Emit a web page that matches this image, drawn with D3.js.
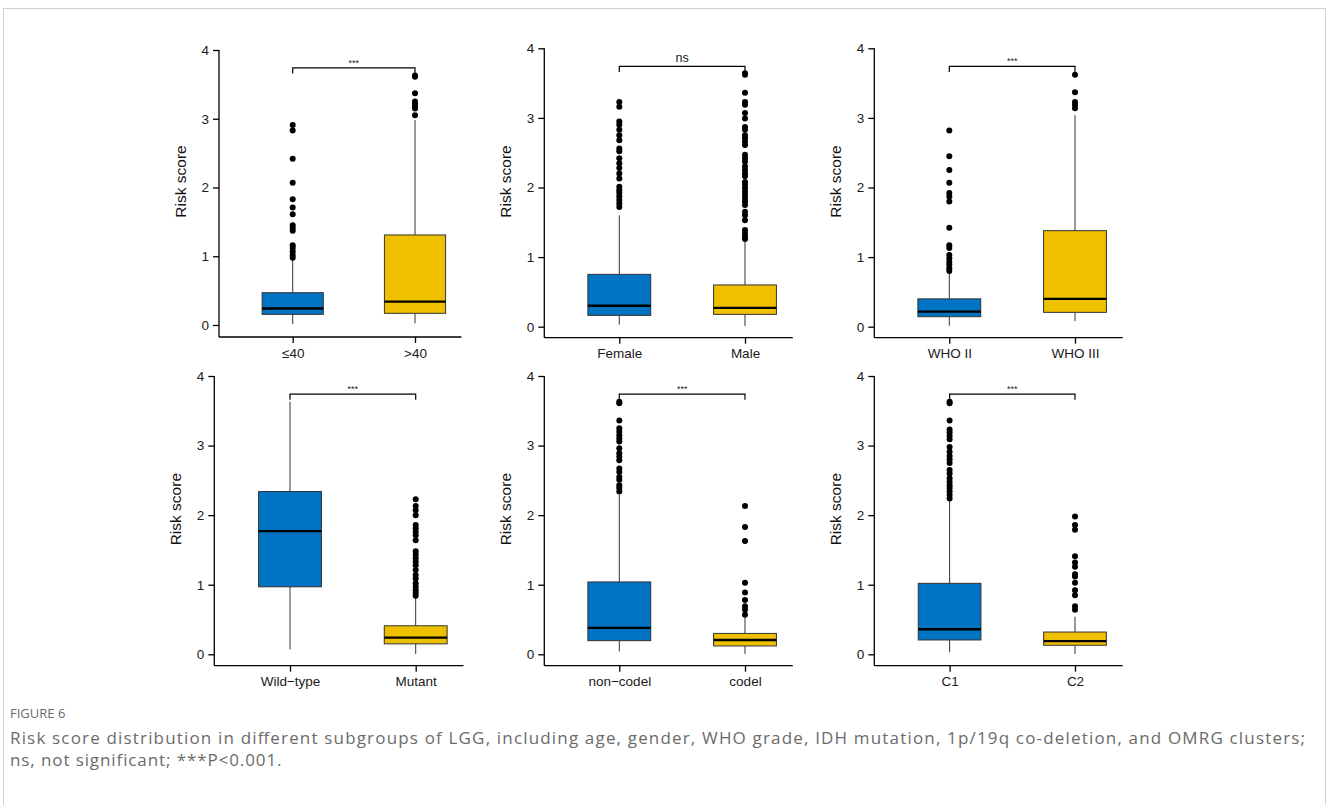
<!DOCTYPE html>
<html>
<head>
<meta charset="utf-8">
<script src="https://d3js.org/d3.v7.min.js"></script>
<style>
  body { margin: 0; background: #fff; }
  svg { display: block; }
</style>
</head>
<body>
<script>
// ---- data ----
const categories = [
  ["≤40", ">40"],
  ["Female", "Male"],
  ["WHO II", "WHO III"],
  ["Wild\u2212type", "Mutant"],
  ["non\u2212codel", "codel"],
  ["C1", "C2"]
];
const sigLabels = ["***", "ns", "***", "***", "***", "***"];

// box stats per panel: [group1, group2]
const whiskerLow  = [[0.015, 0.024], [0.03, 0.01], [0.014, 0.08], [0.07, 0.005], [0.04, 0.005], [0.03, 0.005]];
const q1          = [[0.155, 0.17], [0.163, 0.177], [0.144, 0.206], [0.97, 0.15], [0.196, 0.12], [0.206, 0.13]];
const medians     = [[0.24, 0.34], [0.30, 0.27], [0.216, 0.40], [1.77, 0.24], [0.38, 0.206], [0.36, 0.19]];
const q3          = [[0.47, 1.31], [0.752, 0.60], [0.40, 1.38], [2.34, 0.41], [1.04, 0.30], [1.02, 0.32]];
const whiskerHigh = [[0.95, 2.98], [1.60, 1.25], [0.78, 3.04], [3.63, 0.82], [2.29, 0.56], [2.23, 0.54]];

const outliers = [
  [[2.91, 2.83, 2.42, 2.07, 1.83, 1.71, 1.61, 1.45, 1.41, 1.37, 1.16, 1.12, 1.07, 1.02, 0.98],
   [3.63, 3.61, 3.37, 3.25, 3.22, 3.18, 3.15, 3.05]],
  [[3.23, 3.16, 2.95, 2.90, 2.83, 2.75, 2.68, 2.56, 2.52, 2.42, 2.35, 2.28, 2.20, 2.13, 2.01, 1.96, 1.92, 1.87, 1.82, 1.77, 1.72],
   [3.64, 3.62, 3.36, 3.23, 3.19, 3.07, 2.99, 2.87, 2.83, 2.75, 2.71, 2.66, 2.61, 2.47, 2.42, 2.37, 2.30, 2.25, 2.20, 2.16,
    2.08, 2.04, 1.99, 1.94, 1.89, 1.84, 1.80, 1.75, 1.65, 1.60, 1.53, 1.39, 1.34, 1.29, 1.26]],
  [[2.82, 2.45, 2.25, 2.07, 1.92, 1.87, 1.80, 1.42, 1.17, 1.13, 1.03, 0.98, 0.93, 0.89, 0.84, 0.80],
   [3.62, 3.37, 3.23, 3.19, 3.14]],
  [[],
   [2.23, 2.13, 2.07, 2.00, 1.86, 1.81, 1.76, 1.71, 1.64, 1.48, 1.43, 1.38, 1.33, 1.28, 1.21, 1.14, 1.09, 1.02, 0.97, 0.92, 0.88, 0.84]],
  [[3.63, 3.61, 3.36, 3.25, 3.20, 3.15, 3.10, 3.06, 2.96, 2.89, 2.84, 2.79, 2.67, 2.62, 2.55, 2.51, 2.43, 2.39, 2.34],
   [2.13, 1.83, 1.63, 1.03, 0.89, 0.78, 0.69, 0.64, 0.57]],
  [[3.63, 3.61, 3.36, 3.23, 3.19, 3.14, 3.09, 2.98, 2.91, 2.85, 2.80, 2.75, 2.65, 2.60, 2.53, 2.48, 2.43, 2.39, 2.34, 2.29, 2.24],
   [1.98, 1.86, 1.79, 1.41, 1.32, 1.26, 1.15, 1.12, 1.03, 0.92, 0.85, 0.69, 0.64]]
];
const yTicks = [0, 1, 2, 3, 4];
const bracketLevel = 3.74, bracketDrop = 0.08;

const fillColors = ["#0073C2", "#EFC000"];

// ---- layout (pixel placement of each panel) ----
const width = 1327, height = 805;
const layout = [
  {axisX: 219,   y4: 50,   y0: 325,   xAxisY: 337,   c1: 292.7, c2: 415},
  {axisX: 544.3, y4: 48.3, y0: 326.7, xAxisY: 337.7, c1: 619.3, c2: 745},
  {axisX: 874.3, y4: 48.3, y0: 326.7, xAxisY: 337.7, c1: 949.3, c2: 1075},
  {axisX: 214.3, y4: 376,  y0: 654.3, xAxisY: 665.7, c1: 290,   c2: 415.7},
  {axisX: 544.3, y4: 376,  y0: 654.3, xAxisY: 665.7, c1: 619.3, c2: 745},
  {axisX: 874.3, y4: 376,  y0: 654.3, xAxisY: 665.7, c1: 949.6, c2: 1075}
];

let svg = d3.select("body").append("svg")
    .attr("width", width)
    .attr("height", height);

// page frame
svg.append("rect")
    .attr("x", 3.5).attr("y", 8.5)
    .attr("width", 1322).attr("height", 820)
    .attr("fill", "none")
    .attr("stroke", "#d0d0d0");

function drawPanel(i) {
    let L = layout[i];
    let cats = categories[i];

    let y = d3.scaleLinear()
        .domain([0, 4])
        .range([L.y0, L.y4]);
    let x = d3.scalePoint()
        .domain(cats)
        .range([L.c1, L.c2]);
    let step = L.c2 - L.c1;
    let boxW = step * 0.5;

    let g = svg.append("g");

    // y axis
    let yAxis = d3.axisLeft(y).tickValues(yTicks).tickSize(6).tickPadding(4).tickFormat(d3.format("d"));
    let gy = g.append("g")
        .attr("transform", `translate(${L.axisX},0)`)
        .call(yAxis);
    gy.select(".domain").remove();
    gy.append("line")
        .attr("x1", 0).attr("x2", 0)
        .attr("y1", y(4)).attr("y2", L.xAxisY)
        .attr("stroke", "#000").attr("stroke-width", 1.3);
    gy.selectAll(".tick line").attr("stroke", "#000").attr("stroke-width", 1.3);
    gy.selectAll(".tick text")
        .attr("font-family", "Liberation Sans, Arial, sans-serif")
        .attr("font-size", 13.5).attr("fill", "#1a1a1a");

    // x axis
    let xAxis = d3.axisBottom(x).tickSize(6).tickPadding(5);
    let gx = g.append("g")
        .attr("transform", `translate(0,${L.xAxisY})`)
        .call(xAxis);
    gx.select(".domain").remove();
    gx.append("line")
        .attr("x1", L.axisX).attr("x2", L.c2 + step * 0.38)
        .attr("y1", 0).attr("y2", 0)
        .attr("stroke", "#000").attr("stroke-width", 1.3);
    gx.selectAll(".tick line").attr("stroke", "#000").attr("stroke-width", 1.3);
    gx.selectAll(".tick text")
        .attr("font-family", "Liberation Sans, Arial, sans-serif")
        .attr("font-size", 13.5).attr("fill", "#1a1a1a");

    // y title
    g.append("text")
        .attr("transform", `translate(${L.axisX - 33},${(L.y4 + L.y0) / 2 - 6}) rotate(-90)`)
        .attr("text-anchor", "middle")
        .attr("font-family", "Liberation Sans, Arial, sans-serif")
        .attr("font-size", 15.5)
        .attr("fill", "#111")
        .text("Risk score");

    // boxes
    cats.forEach((c, j) => {
        let cx = x(c);
        g.append("line")
            .attr("x1", cx).attr("x2", cx)
            .attr("y1", y(whiskerLow[i][j])).attr("y2", y(q1[i][j]))
            .attr("stroke", "#333").attr("stroke-width", 1);
        g.append("line")
            .attr("x1", cx).attr("x2", cx)
            .attr("y1", y(q3[i][j])).attr("y2", y(whiskerHigh[i][j]))
            .attr("stroke", "#333").attr("stroke-width", 1);
        g.append("rect")
            .attr("x", cx - boxW / 2)
            .attr("y", y(q3[i][j]))
            .attr("width", boxW)
            .attr("height", y(q1[i][j]) - y(q3[i][j]))
            .attr("fill", fillColors[j])
            .attr("stroke", "#333")
            .attr("stroke-width", 1);
        g.append("line")
            .attr("x1", cx - boxW / 2).attr("x2", cx + boxW / 2)
            .attr("y1", y(medians[i][j])).attr("y2", y(medians[i][j]))
            .attr("stroke", "#000").attr("stroke-width", 2.4);
        g.selectAll(null)
            .data(outliers[i][j])
            .join("circle")
                .attr("cx", cx)
                .attr("cy", d => y(d))
                .attr("r", 3)
                .attr("fill", "#000");
    });

    // significance bracket
    let bx1 = x(cats[0]), bx2 = x(cats[1]);
    g.append("path")
        .attr("d", `M${bx1},${y(bracketLevel - bracketDrop)}V${y(bracketLevel)}H${bx2}V${y(bracketLevel - bracketDrop)}`)
        .attr("fill", "none")
        .attr("stroke", "#000")
        .attr("stroke-width", 1.2);
    let isNs = sigLabels[i] === "ns";
    g.append("text")
        .attr("x", (bx1 + bx2) / 2)
        .attr("y", y(bracketLevel) - (isNs ? 4 : 2))
        .attr("text-anchor", "middle")
        .attr("font-family", "Liberation Sans, Arial, sans-serif")
        .attr("font-size", isNs ? 12.5 : 9)
        .attr("fill", "#222")
        .text(sigLabels[i]);
}

d3.range(6).forEach(drawPanel);

// caption
let cap = svg.append("g")
    .attr("font-family", "Open Sans, sans-serif")
    .attr("fill", "#6b6b6b");
cap.append("text")
    .attr("x", 10).attr("y", 718)
    .attr("font-size", 13)
    .text("FIGURE 6");
cap.append("text")
    .attr("x", 10).attr("y", 744)
    .attr("font-size", 17)
    .attr("textLength", 1295)
    .attr("lengthAdjust", "spacing")
    .text("Risk score distribution in different subgroups of LGG, including age, gender, WHO grade, IDH mutation, 1p/19q co-deletion, and OMRG clusters;");
cap.append("text")
    .attr("x", 10).attr("y", 766)
    .attr("font-size", 17)
    .attr("letter-spacing", 0.9)
    .text("ns, not significant; ***P<0.001.");
</script>
</body>
</html>
